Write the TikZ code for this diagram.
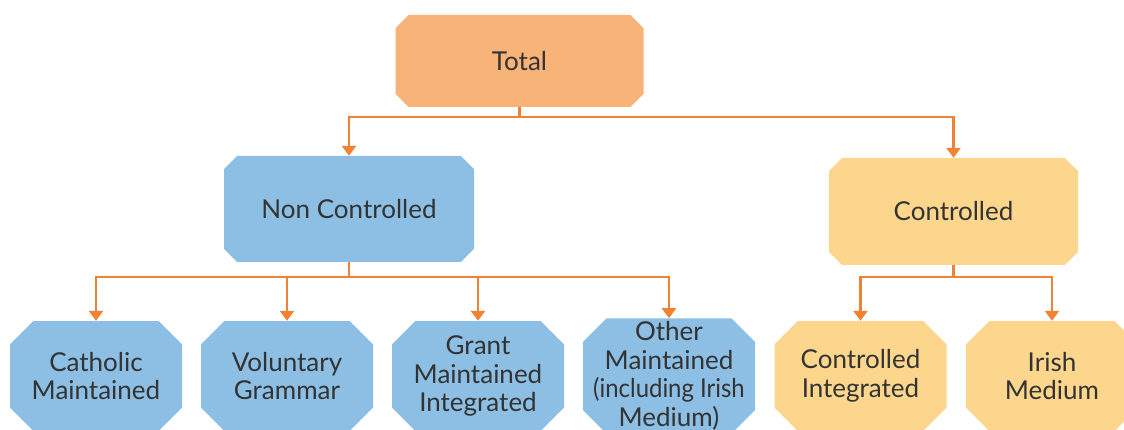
\documentclass[tikz,border=0pt]{standalone}
\usepackage{fontspec}
\setmainfont{Lato}
\usetikzlibrary{shapes.misc,arrows.meta}
\definecolor{linkorange}{HTML}{F08233}
\definecolor{totalfill}{HTML}{F8B378}
\definecolor{ncfill}{HTML}{8DBFE4}
\definecolor{cfill}{HTML}{FCD68C}
\definecolor{textgrey}{HTML}{333333}
\tikzset{
  box/.style={chamfered rectangle, chamfered rectangle xsep=20pt,
    chamfered rectangle angle=45, inner sep=0pt, draw=none,
    align=center, text=textgrey, font=\fontsize{26}{28.5}\selectfont},
  link/.style={draw=linkorange, line width=2.5pt,
    -{Triangle[width=14pt,length=10pt]}}
}
\begin{document}
\begin{tikzpicture}[x=1pt,y=-1pt]
    \useasboundingbox (0,0) rectangle (1124,430);
    % the top level
    \node[box, fill=totalfill, minimum width=248pt, minimum height=92pt] (total) at (519.5,61) {Total};
    % the two groups
    \node[box, fill=ncfill, minimum width=250pt, minimum height=106pt] (nonctrl) at (349,209) {Non Controlled};
    \node[box, fill=cfill, minimum width=249pt, minimum height=107pt] (ctrl) at (953.5,211.5) {Controlled};
    % the school types (cut off at the bottom of the page)
    \node[box, fill=ncfill, minimum width=172pt, minimum height=110pt] (catholic) at (96,376) {Catholic\\Maintained};
    \node[box, fill=ncfill, minimum width=172pt, minimum height=110pt] (voluntary) at (287,376) {Voluntary\\Grammar};
    \node[box, fill=ncfill, minimum width=172pt, minimum height=110pt] (grant) at (478,376) {Grant\\Maintained\\Integrated};
    \node[box, fill=ncfill, minimum width=172pt, minimum height=110pt] (other) at (669,376) {Other\\Maintained\\\makebox[120pt]{\addfontfeature{FakeStretch=0.92}(including Irish}\\Medium)};
    \node[box, fill=cfill, minimum width=172pt, minimum height=110pt] (ctrlint) at (860.5,376) {Controlled\\Integrated};
    \node[box, fill=cfill, minimum width=172pt, minimum height=110pt] (irish) at (1052,376) {Irish\\Medium};
    % draw the arrows
    \draw[link] (total.south) -- ++(0,10) -| (nonctrl.north);
    \draw[link] (total.south) -- ++(0,10) -| (ctrl.north);
    \draw[link] (nonctrl.south) -- ++(0,15) -| (catholic.north);
    \draw[link] (nonctrl.south) -- ++(0,15) -| (voluntary.north);
    \draw[link] (nonctrl.south) -- ++(0,15) -| (grant.north);
    \draw[link] (nonctrl.south) -- ++(0,15) -| (other.north);
    \draw[link] (ctrl.south) -- ++(0,12) -| (ctrlint.north);
    \draw[link] (ctrl.south) -- ++(0,12) -| (irish.north);
\end{tikzpicture}
\end{document}
